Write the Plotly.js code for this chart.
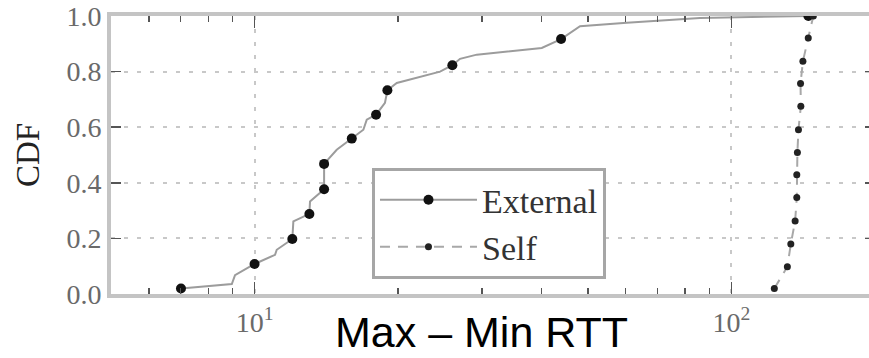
<!DOCTYPE html>
<html>
<head>
<meta charset="utf-8">
<script src="https://cdn.plot.ly/plotly-3.0.1.min.js"></script>
<style>html,body{margin:0;padding:0;overflow:hidden;background:#fff}</style>
</head>
<body>
<div id="chart" style="width:880px;height:358px"></div>
<script>
// External: CDF vertices (Max - Min RTT, CDF)
const extX = [7.01, 8.96, 9.10, 10.0, 11.04, 11.13, 12.0, 12.06, 13.03, 13.07, 13.99, 13.99, 14.87, 15.99, 16.91, 17.19, 17.98, 18.77, 18.99, 19.87, 24.49, 25.99, 26.97, 29.24, 40.02, 43.93, 48.14, 60.33, 69.7, 85.9, 145];
const extY = [0.02, 0.036, 0.068, 0.108, 0.141, 0.159, 0.198, 0.261, 0.288, 0.333, 0.377, 0.468, 0.519, 0.559, 0.591, 0.627, 0.645, 0.688, 0.733, 0.759, 0.80, 0.823, 0.846, 0.861, 0.885, 0.917, 0.963, 0.976, 0.984, 0.993, 1.0];
// indices of External vertices that carry a marker
const extMarkIdx = [0, 3, 6, 8, 10, 11, 13, 16, 18, 21, 25, 30];
// Self
const selfX = [123.0, 131.0, 133.2, 136.0, 137.1, 137.1, 137.5, 138.2, 139.8, 139.6, 141.2, 144.9, 148.5];
const selfY = [0.02, 0.098, 0.18, 0.263, 0.347, 0.429, 0.509, 0.591, 0.675, 0.757, 0.837, 0.921, 1.0];
const seriesNames = ['External', 'Self'];
const xTickVals = [10, 100];
const xTickText = ['10<sup>1</sup>', '10<sup>2</sup>'];
const xMinorVals = [6, 7, 8, 9, 20, 30, 40, 50, 60, 70, 80, 90];
const yTickVals = [0, 0.2, 0.4, 0.6, 0.8, 1.0];
const xTitle = 'Max – Min RTT';
const yTitle = 'CDF';

const extColors = extX.map((_, i) => extMarkIdx.includes(i) ? '#111' : 'rgba(0,0,0,0)');

const serif = 'Liberation Serif, Times New Roman, serif';

const traces = [
  {
    x: extX, y: extY, name: seriesNames[0], type: 'scatter', mode: 'lines+markers',
    line: {color: '#9c9c9c', width: 2},
    marker: {color: extColors, size: 10, symbol: 'circle'}
  },
  {
    x: selfX, y: selfY, name: seriesNames[1], type: 'scatter', mode: 'lines+markers',
    line: {color: '#a8a8a8', width: 2, dash: '10px,8px'},
    marker: {color: '#222', size: 7, symbol: 'circle'}
  }
];

const axisCommon = {
  showline: true, linecolor: '#c4c4c4', linewidth: 4, mirror: 'ticks',
  ticks: 'inside', tickcolor: '#555', tickwidth: 1.5,
  showgrid: true, gridcolor: '#c8c8c8', gridwidth: 2, griddash: '4px,9px',
  zeroline: false,
  tickfont: {family: serif, size: 28, color: '#6a6a6a'}
};

const layout = {
  width: 880, height: 358,
  margin: {l: 111, r: 5, t: 16, b: 64, pad: 0},
  paper_bgcolor: '#fff', plot_bgcolor: '#fff',
  showlegend: true,
  xaxis: Object.assign({}, axisCommon, {
    type: 'log',
    range: [Math.log10(5), Math.log10(200)],
    tickmode: 'array', tickvals: xTickVals, ticktext: xTickText,
    ticklen: 12,
    minor: {tickmode: 'array', tickvals: xMinorVals, ticks: 'inside', ticklen: 6, tickcolor: '#555', tickwidth: 1.5, showgrid: false}
  }),
  yaxis: Object.assign({}, axisCommon, {
    range: [0, 1],
    tickmode: 'array', tickvals: yTickVals, tickformat: '.1f',
    ticklen: 10,
    title: {text: yTitle, font: {family: serif, size: 33, color: '#222'}, standoff: 18}
  }),
  legend: {
    x: 0.3416, y: 0.453, xanchor: 'left', yanchor: 'top',
    bgcolor: '#fff', bordercolor: '#a6a6a6', borderwidth: 3,
    font: {family: serif, size: 34, color: '#333'},
    itemwidth: 97
  },
  annotations: [{
    text: xTitle, xref: 'paper', yref: 'paper', x: 0.4843, y: -0.2266,
    xanchor: 'center', yanchor: 'bottom', showarrow: false, borderpad: 0,
    font: {family: 'Liberation Sans, Arial, sans-serif', size: 43, color: '#000'}
  }]
};

Plotly.newPlot('chart', traces, layout, {displayModeBar: false, staticPlot: true});
</script>
</body>
</html>
